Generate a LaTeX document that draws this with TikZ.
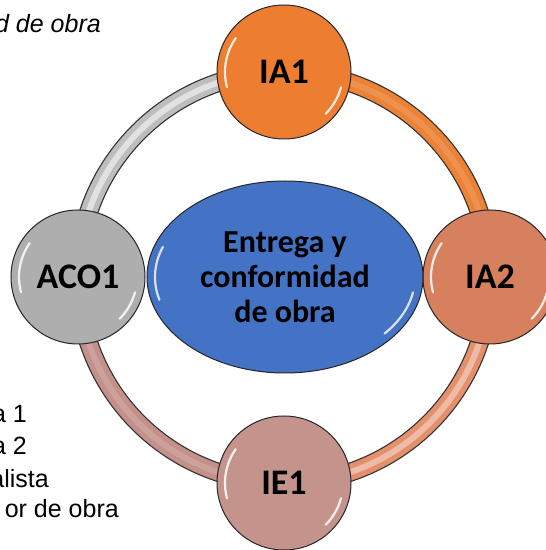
\documentclass[tikz,border=0pt]{standalone}
\usepackage{fontspec}
\setmainfont{Liberation Sans}
\newfontfamily\calib{Carlito}
\usetikzlibrary{shapes.geometric,backgrounds}
\definecolor{cIAone}{HTML}{ED7D31}
\definecolor{cIAtwo}{HTML}{D7805E}
\definecolor{cACO}{HTML}{AEAEAE}
\definecolor{cIE}{HTML}{C4948C}
\definecolor{cBlue}{HTML}{4472C4}
\definecolor{rGray}{HTML}{BDBDBD}
\definecolor{rOrange}{HTML}{EC8236}
\definecolor{rSalmon}{HTML}{E4906C}
\definecolor{rRose}{HTML}{C4908A}
\newcommand{\glossball}[1]{%
  \draw[white, line width=2.2pt, opacity=.85, line cap=round]
    ([shift={(145:59)}]#1.center) arc[start angle=145, end angle=195, radius=59];
  \draw[white, line width=2.2pt, opacity=.85, line cap=round]
    ([shift={(-15:59)}]#1.center) arc[start angle=-15, end angle=-45, radius=59];
}
\begin{document}
\begin{tikzpicture}[x=1pt,y=1pt,
  ball/.style={circle, draw=black!85, line width=1pt, minimum size=134pt, inner sep=0pt,
    font=\calib\bfseries\fontsize{36}{40}\selectfont},
  hub/.style={ellipse, draw=black!85, line width=1pt, minimum width=276pt, minimum height=192pt,
    inner sep=0pt, fill=cBlue, align=center, font=\calib\bfseries\fontsize{32}{35}\selectfont},
  bandout/.style={line width=19pt, draw=black!80},
  bandin/.style={line width=16.5pt},
  bandhi/.style={line width=6pt, draw=white, opacity=.25},
  legend/.style={anchor=base east, inner sep=0pt, font=\fontsize{25}{25}\selectfont}]
\useasboundingbox (0,0) rectangle (546,550);
\clip (0,0) rectangle (546,550);

\node[ball, fill=cIAone] (IA1) at (284,478) {IA1};
\node[ball, fill=cIAtwo] (IA2) at (490,273) {IA2};
\node[ball, fill=cIE] (IE1) at (284,67) {IE1};
\node[ball, fill=cACO] (ACO1) at (78,273) {ACO1};
\node[hub] (hub) at (285,273) {Entrega y\\conformidad\\de obra};

\begin{scope}[on background layer]
  \clip (0,0) rectangle (546,550);
  \fill[white] (0,0) rectangle (546,550);
  \draw[bandout] (ACO1.center) to[bend left=45] (IA1.center);
  \draw[bandout] (IA1.center) to[bend left=45] (IA2.center);
  \draw[bandout] (IA2.center) to[bend left=45] (IE1.center);
  \draw[bandout] (IE1.center) to[bend left=45] (ACO1.center);
  \draw[bandin, rGray] (ACO1.center) to[bend left=45] (IA1.center);
  \draw[bandin, rOrange] (IA1.center) to[bend left=45] (IA2.center);
  \draw[bandin, rSalmon] (IA2.center) to[bend left=45] (IE1.center);
  \draw[bandin, rRose] (IE1.center) to[bend left=45] (ACO1.center);
  \draw[bandhi, opacity=.55] (ACO1.center) to[bend left=45] (IA1.center);
  \draw[bandhi, opacity=.12] (IA1.center) to[bend left=45] (IA2.center);
  \draw[bandhi, opacity=.4] (IA2.center) to[bend left=45] (IE1.center);
  \draw[bandhi, opacity=.15] (IE1.center) to[bend left=45] (ACO1.center);
\end{scope}

\glossball{IA1}
\glossball{IA2}
\glossball{IE1}
\glossball{ACO1}
\draw[white, line width=2.2pt, opacity=.8, line cap=round]
  ([shift={(160:130 and 88)}]hub.center) arc[start angle=160, end angle=195, x radius=130, y radius=88];
\draw[white, line width=2.2pt, opacity=.8, line cap=round]
  ([shift={(-10:130 and 88)}]hub.center) arc[start angle=-10, end angle=-40, x radius=130, y radius=88];

\node[legend, font=\itshape\fontsize{25}{25}\selectfont] (top) at (101,517) {d de obra};
\node[legend] (l1) at (27,127) {a 1};
\node[legend] (l2) at (27,95) {a 2};
\node[legend] (l3) at (49,63) {alista};
\node[legend] (l4) at (119,32) {or de obra};
\end{tikzpicture}
\end{document}
